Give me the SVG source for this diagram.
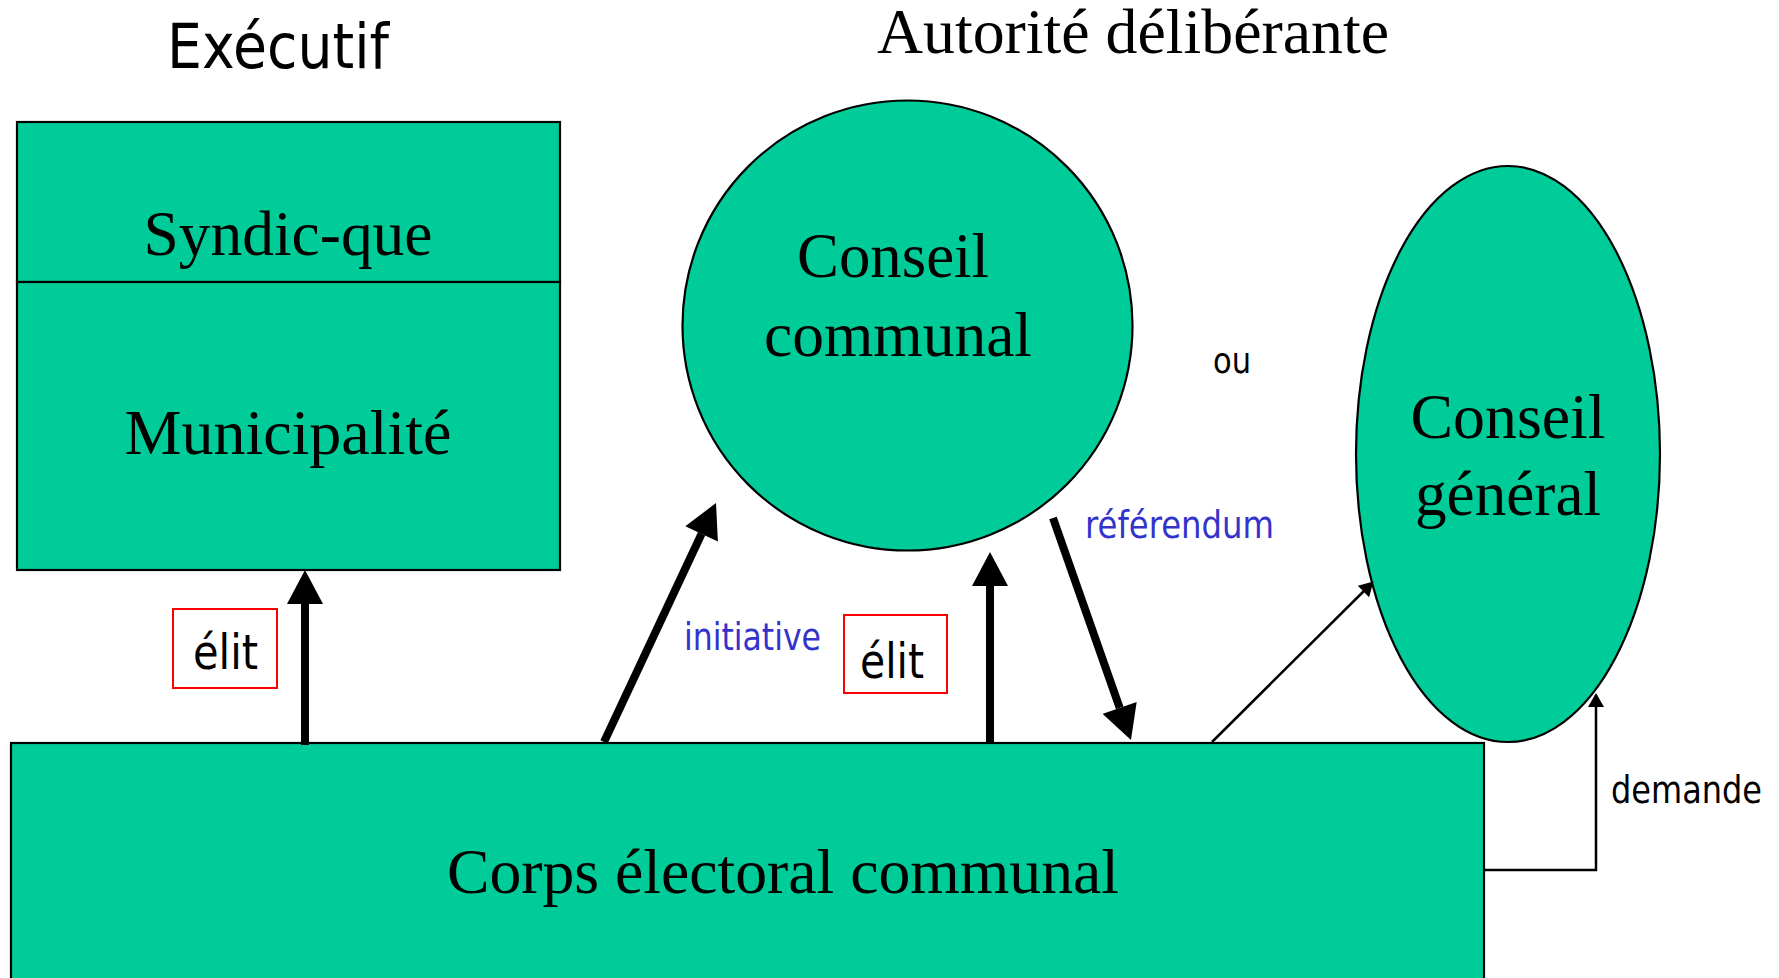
<svg xmlns="http://www.w3.org/2000/svg" width="1779" height="978" viewBox="0 0 1779 978">
<defs>
<style>
.node{fill:#00CC99;stroke:#000;stroke-width:2.2}
.serif{font-family:"Liberation Serif","Times New Roman",serif;font-size:64px;fill:#000}
.sans{font-family:"DejaVu Sans","Liberation Sans",sans-serif;fill:#000}
.blue{fill:#3333CC}
.tag{fill:#fff;stroke:#FF0000;stroke-width:2}
.thick{stroke:#000;stroke-width:8;fill:none}
.thin{stroke:#000;stroke-width:2.5;fill:none}
</style>
<marker id="big" markerUnits="userSpaceOnUse" markerWidth="36" markerHeight="36" viewBox="0 0 34 36" refX="0" refY="18" orient="auto">
<path d="M0,0 L34,18 L0,36 Z" fill="#000"/>
</marker>
<marker id="small" markerUnits="userSpaceOnUse" markerWidth="16" markerHeight="16" viewBox="0 0 14 16" refX="12" refY="8" orient="auto">
<path d="M0,0 L14,8 L0,16 Z" fill="#000"/>
</marker>
</defs>
<rect width="1779" height="978" fill="#fff"/>

<text class="sans" x="278" y="68" font-size="63" text-anchor="middle" textLength="222" lengthAdjust="spacingAndGlyphs">Exécutif</text>
<text class="serif" x="1133" y="53" text-anchor="middle" textLength="512" lengthAdjust="spacingAndGlyphs">Autorité délibérante</text>

<g id="syndic">
<rect class="node" x="17" y="122" width="543" height="160"/>
<text class="serif" x="288" y="255" text-anchor="middle" textLength="289" lengthAdjust="spacingAndGlyphs">Syndic-que</text>
</g>
<g id="municipalite">
<rect class="node" x="17" y="282" width="543" height="288"/>
<text class="serif" x="288" y="454" text-anchor="middle" textLength="327" lengthAdjust="spacingAndGlyphs">Municipalité</text>
</g>

<g id="conseil-communal">
<circle class="node" cx="907.5" cy="325.5" r="225"/>
<text class="serif" x="893" y="277" text-anchor="middle" textLength="192" lengthAdjust="spacingAndGlyphs">Conseil</text>
<text class="serif" x="898" y="356" text-anchor="middle" textLength="268" lengthAdjust="spacingAndGlyphs">communal</text>
</g>

<g id="ou">
<text class="sans" x="1232" y="373" font-size="36" text-anchor="middle" textLength="38" lengthAdjust="spacingAndGlyphs">ou</text>
</g>

<g id="conseil-general">
<ellipse class="node" cx="1508" cy="454" rx="152" ry="288"/>
<text class="serif" x="1508" y="438" text-anchor="middle" textLength="195" lengthAdjust="spacingAndGlyphs">Conseil</text>
<text class="serif" x="1508" y="515" text-anchor="middle" textLength="186" lengthAdjust="spacingAndGlyphs">général</text>
</g>

<g id="corps-electoral">
<rect class="node" x="11" y="743" width="1473" height="250"/>
<text class="serif" x="783" y="893" text-anchor="middle" textLength="672" lengthAdjust="spacingAndGlyphs">Corps électoral communal</text>
</g>

<g id="connectors">
<line class="thick" x1="305" y1="745" x2="305" y2="604" marker-end="url(#big)"/>
<line class="thick" x1="604" y1="742" x2="701.6" y2="533.8" marker-end="url(#big)"/>
<line class="thick" x1="990" y1="743" x2="990" y2="586" marker-end="url(#big)"/>
<line class="thick" x1="1053" y1="518" x2="1119.7" y2="707.9" marker-end="url(#big)"/>
<line class="thin" x1="1212" y1="742" x2="1372" y2="583" marker-end="url(#small)"/>
<polyline class="thin" points="1484,870 1596,870 1596,695" marker-end="url(#small)"/>
</g>

<g id="label-elit-1">
<rect class="tag" x="173" y="609" width="104" height="79"/>
<text class="sans" x="225.5" y="669" font-size="48" text-anchor="middle" textLength="65" lengthAdjust="spacingAndGlyphs">élit</text>
</g>
<g id="label-initiative">
<text class="sans blue" x="684" y="650" font-size="37" textLength="137" lengthAdjust="spacingAndGlyphs">initiative</text>
</g>
<g id="label-elit-2">
<rect class="tag" x="844" y="615" width="103" height="78"/>
<text class="sans" x="892" y="678" font-size="48" text-anchor="middle" textLength="64" lengthAdjust="spacingAndGlyphs">élit</text>
</g>
<g id="label-referendum">
<text class="sans blue" x="1085" y="538" font-size="37" textLength="189" lengthAdjust="spacingAndGlyphs">référendum</text>
</g>
<g id="label-demande">
<text class="sans" x="1611" y="803" font-size="37" textLength="151" lengthAdjust="spacingAndGlyphs">demande</text>
</g>
</svg>
